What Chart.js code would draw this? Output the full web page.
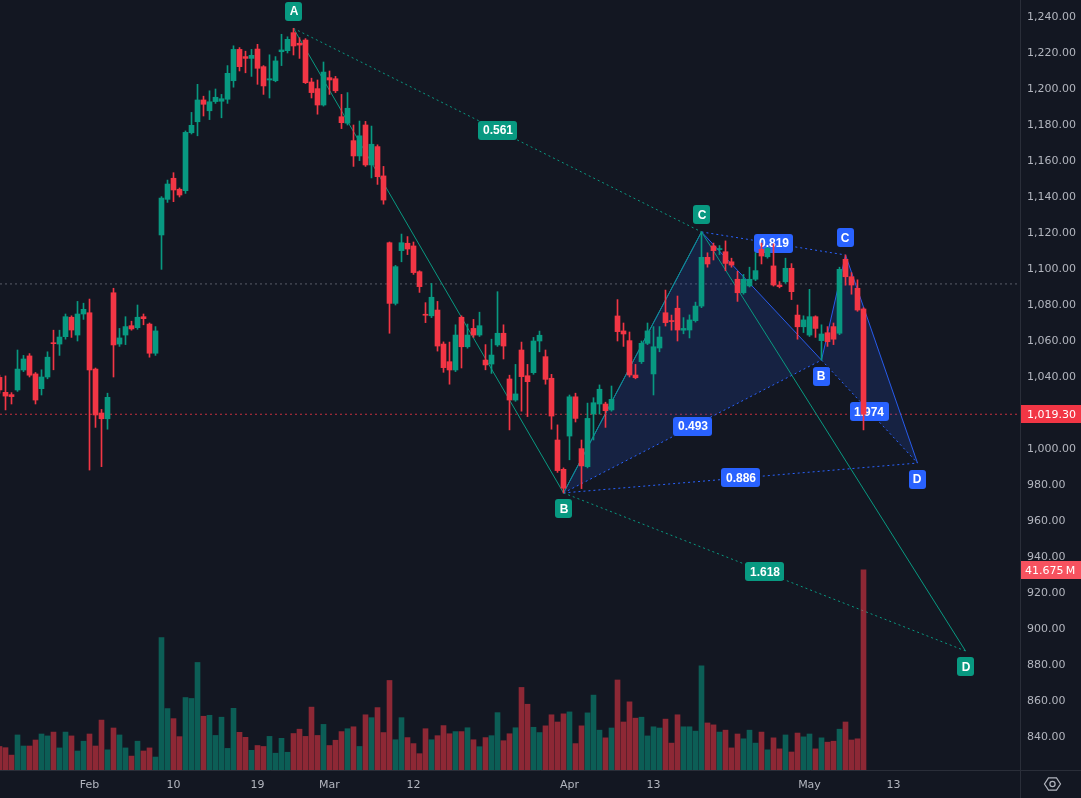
<!DOCTYPE html>
<html>
<head>
<meta charset="utf-8">
<title>Harmonic pattern chart</title>
<script src="https://cdn.jsdelivr.net/npm/chart.js@4.4.1/dist/chart.umd.min.js"></script>
<style>
  html, body { margin: 0; padding: 0; background: #131722; }
  #wrap { width: 1081px; height: 798px; }
</style>
</head>
<body>
<div id="wrap"><canvas id="chart" width="1081" height="798"></canvas></div>
<script>
"use strict";
/* candles, bar 0 is the one cut by the left edge */
var opens = [1039.8,1031.5,1030.2,1032.8,1043.9,1051.7,1041.7,1033.5,1040,1058.9,
  1058.3,1062.4,1073.2,1063.3,1075,1075.7,1044.4,1020,1016.8,1086.8,
  1058.3,1063.3,1068.5,1067.4,1073.5,1069.4,1053.2,1118.9,1138.7,1150.4,
  1144.3,1143.5,1175.7,1181.8,1193.9,1187.9,1193,1193.2,1194.3,1204.6,
  1222,1218,1217,1222.2,1212.4,1205,1204.6,1220.7,1221.3,1231.3,
  1225.4,1227.2,1203.9,1200.2,1191.1,1206.3,1205.7,1184.6,1181,1171.3,
  1162.8,1180,1157.8,1168,1151.7,1114.6,1080.9,1110.2,1114.3,1112.8,
  1098.5,1074.8,1074,1077.2,1058.3,1048.5,1043.9,1073.2,1056.8,1067,
  1063.3,1049.4,1047.2,1057.8,1064.3,1038.9,1027.2,1055,1040.7,1042.4,
  1060,1051.3,1039.3,1005,988.7,1007.2,1029,1000.2,990.2,1019.4,
  1025,1025,1021.7,1073.9,1065.6,1060.2,1041.1,1048.5,1058.7,1041.7,
  1056.1,1075.7,1071.3,1078.2,1066,1066.1,1071.3,1079.4,1106.5,1112.8,
  1110.8,1109.6,1104,1094.3,1086.8,1090.6,1094.3,1110.9,1106.8,1101.7,
  1091.1,1092.9,1100.4,1074.4,1067.9,1063.3,1073.5,1060.2,1064.6,1068,
  1064.3,1105.4,1095.7,1089.3,1077.8];
var highs = [1041,1040.6,1031.3,1055,1052,1053,1042.5,1044,1054,1066,
  1066,1075,1074,1082,1081,1083.3,1045,1022,1031,1089.3,
  1067,1073.5,1071,1080,1075,1070,1068,1140.2,1149.4,1153.5,
  1145,1176.7,1187,1202.6,1196,1199,1200,1197,1213,1224,
  1223,1221,1222,1224.8,1213,1219,1218,1230.4,1229,1233.7,
  1228.5,1228,1206,1205,1215,1210,1207,1197,1198,1180,
  1182.2,1182,1179.4,1169,1157,1115,1102,1119.4,1118,1115,
  1099,1081.3,1092,1082,1059.5,1059.4,1069,1074,1069.4,1072,
  1076,1058,1061,1087.4,1069,1041,1047,1059.4,1047,1062,
  1065.5,1055,1041.5,1013.4,989.5,1030,1031,1005,1025.5,1028.5,
  1035.6,1026,1035,1083,1070,1065,1047,1060,1070,1068,
  1068,1088.3,1074.4,1085,1073,1074.5,1081.6,1120.7,1109,1114.4,
  1113,1115.6,1106,1098.7,1097,1101,1109,1114.4,1112,1114,
  1093,1106,1103,1080,1074,1088.7,1074,1069,1068,1070,
  1101,1107.8,1098,1094,1078.5];
var lows = [1031,1021.7,1025,1032,1043,1040,1025,1030,1039,1044,
  1052,1061,1062,1060,1072,988.3,1012,990.2,1011,1040,
  1057,1058,1066,1066.5,1069,1051,1052,1099.8,1137,1137.4,
  1140,1142,1175,1174,1185,1183,1192,1184,1192,1201,
  1210,1209,1207,1202.6,1197,1195,1204,1213,1220,1218.9,
  1217,1203,1195,1186,1190.5,1197,1198,1178,1180,1157,
  1160.2,1157,1150.6,1147,1136,1064.3,1080,1104,1108,1097,
  1087,1070.2,1073,1054.4,1042.6,1036,1043,1045,1056,1062,
  1062.5,1044,1042,1057,1050,1010.6,1026.5,1021,1018,1041.5,
  1054,1036,1011,987,975.6,994,1015,978,989.5,1005,
  1019.4,1012,1021,1060,1057,1040,1039,1047.5,1058,1030,
  1054,1068.3,1066,1060,1064,1061.7,1070.5,1078.5,1101,1105,
  1108,1099,1101,1082,1086,1090,1093.5,1102.8,1106,1090.5,
  1089.5,1092,1083,1061,1064.7,1062.5,1062,1049.4,1057,1058,
  1063.5,1091,1086,1076.5,1010.6];
var closes = [1032.8,1029.4,1029.1,1044.4,1050,1041,1027.2,1040,1051,1058.5,
  1062.2,1073.5,1066.1,1075,1077.6,1043.9,1018.9,1016.8,1028.7,1057.8,
  1061.7,1068,1066.7,1073.2,1072.4,1053.2,1065.6,1139.4,1147.2,1143.9,
  1141.1,1175.9,1179.8,1193.9,1191.5,1192.9,1195.4,1194.6,1208.7,1222,
  1212.4,1217,1218.7,1211.5,1201.7,1205.7,1215.6,1221.7,1227.6,1223.9,
  1224.4,1203.5,1198,1191.1,1209.4,1205,1199,1181.3,1189.3,1162.8,
  1174,1157.8,1169.3,1151.3,1138.3,1080.9,1101.3,1114.6,1111.1,1098,
  1090.2,1074.3,1084.3,1057.2,1045.2,1043.9,1063.3,1056.8,1063.3,1063.3,
  1068.5,1046.7,1052.2,1064.3,1057.2,1027.2,1030.6,1040.2,1037.4,1060,
  1063.2,1038.7,1018.3,988,978.2,1029,1017,990.6,1017,1025.7,
  1033.2,1021.3,1027.6,1065.2,1063.9,1041.1,1039.6,1058.7,1065.6,1056.8,
  1062.2,1070.2,1070.8,1066.1,1067,1071.7,1079.4,1106.5,1102.8,1110.2,
  1111.2,1103.1,1102.2,1086.8,1094.3,1094.3,1099.1,1107.2,1111.5,1091.1,
  1090.2,1100.4,1087.4,1067.9,1071.7,1073.5,1067,1063.9,1059.6,1061,
  1099.8,1095.7,1091.1,1077.2,1019.3];
// volume in millions
var volumes = [4.9,4.65,3.1,7.3,5.0,5.0,6.25,7.5,7.1,7.9,
  4.6,7.9,7.1,3.96,6.0,7.5,5.0,10.4,4.2,8.75,
  7.3,4.6,2.9,6.0,3.96,4.6,2.7,27.6,12.8,10.7,
  6.95,15.1,14.9,22.4,11.2,11.4,7.2,11.0,4.5,12.85,
  7.85,6.8,4.1,5.1,4.9,7.0,3.5,6.6,3.7,7.6,
  8.5,7.0,13.1,7.2,9.5,5.1,6.2,8.0,8.6,9.0,
  4.9,11.5,10.9,13.0,7.8,18.65,6.3,10.9,6.75,5.5,
  3.4,8.6,6.3,7.15,9.25,7.55,8.0,8.0,8.8,6.3,
  4.85,6.75,7.15,11.95,6.1,7.55,8.8,17.2,13.7,8.9,
  7.8,9.2,11.5,10.0,11.7,12.1,5.5,9.2,11.9,15.6,
  8.3,6.7,8.75,18.75,10.0,14.2,10.8,11.0,7.1,9.0,
  8.75,10.6,5.6,11.5,9.0,9.0,8.1,21.7,9.8,9.4,
  7.9,8.3,4.6,7.5,6.5,8.3,5.6,7.9,4.2,6.7,
  4.4,7.3,3.75,7.7,6.9,7.5,4.4,6.7,5.8,6.0,
  8.5,10.0,6.25,6.5,41.675];

var tickIdx = [15, 29, 43, 55, 69, 95, 109, 135, 149];
var tickLabels = ["Feb", "10", "19", "Mar", "12", "Apr", "13", "May", "13"];
var priceTicks = [840, 860, 880, 900, 920, 940, 960, 980, 1000, 1020, 1040,
  1060, 1080, 1100, 1120, 1140, 1160, 1180, 1200, 1220, 1240];
var refPrice = 1091.7;

// ABCD (green)
var greenIdx = [49, 94, 117, 161];
var greenPx = [1233.7, 975.6, 1120.6, 887.8];
var greenNames = ["A", "B", "C", "D"];
var greenLegs = [[0, 2], [1, 3]];
var greenRatios = ["0.561", "1.618"];

// XABCD (blue)
var blueIdx = [94, 117, 137, 141, 153];
var bluePx = [975.6, 1120.6, 1049.4, 1107.8, 992.2];
var blueNames = ["", "", "B", "C", "D"];
var blueLegs = [[0, 2], [1, 3], [2, 4], [0, 4]];
var blueRatios = ["0.493", "0.819", "1.974", "0.886"];

var UP = "#089981", DOWN = "#f23645";
var GREEN = "#089981", BLUE = "#2962ff";
var AXIS = "#2a2e39", TEXT = "#b2b5be";

var xMin = 0.5 / 6, xMax = 1020.5 / 6;

var idx = opens.map(function (v, i) { return i; });
var isUp = idx.map(function (i) { return closes[i] >= opens[i]; });

function pts(ix, px, list) {
  return list.map(function (k) { return { x: ix[k], y: px[k] }; });
}
function lineSet(data, color, dashed) {
  return {
    type: "line", data: data, borderColor: color, borderWidth: 1,
    borderDash: dashed ? [2, 3] : [], pointRadius: 0, fill: false,
    tension: 0, order: 4, yAxisID: "y"
  };
}

var datasets = [];
datasets.push({
  label: "Volume", data: idx.map(function (i) { return { x: i, y: volumes[i] }; }),
  backgroundColor: idx.map(function (i) { return isUp[i] ? "rgba(8,153,129,0.55)" : "rgba(242,54,69,0.55)"; }),
  barThickness: 5, grouped: false, yAxisID: "yv", order: 3
});
datasets.push({
  label: "Wick", data: idx.map(function (i) { return { x: i, y: [lows[i], highs[i]] }; }),
  backgroundColor: idx.map(function (i) { return isUp[i] ? UP : DOWN; }),
  barThickness: 1, grouped: false, yAxisID: "y", order: 2
});
datasets.push({
  label: "Body", data: idx.map(function (i) { return { x: i, y: [opens[i], closes[i]] }; }),
  backgroundColor: idx.map(function (i) { return isUp[i] ? UP : DOWN; }),
  barThickness: 5, minBarLength: 1, grouped: false, yAxisID: "y", order: 1
});

// reference lines
var lastClose = closes[closes.length - 1];
var refLine = lineSet([{ x: xMin, y: refPrice }, { x: xMax, y: refPrice }], "rgba(120,123,134,0.7)", true);
refLine.order = 6;
datasets.push(refLine);
var lastLine = lineSet([{ x: xMin, y: lastClose }, { x: xMax, y: lastClose }], "rgba(242,54,69,0.8)", true);
lastLine.order = 6;
datasets.push(lastLine);

// blue fills
[[0, 1, 2], [2, 3, 4]].forEach(function (tri) {
  datasets.push({
    type: "line", data: pts(blueIdx, bluePx, tri), borderWidth: 0, pointRadius: 0,
    fill: "shape", backgroundColor: "rgba(41,98,255,0.15)", order: 5, yAxisID: "y"
  });
});

// pattern lines (green listed first so it sits on top)
datasets.push(lineSet(pts(greenIdx, greenPx, [0, 1, 2, 3]), GREEN, false));
greenLegs.forEach(function (l) { datasets.push(lineSet(pts(greenIdx, greenPx, l), GREEN, true)); });
datasets.push(lineSet(pts(blueIdx, bluePx, [0, 1, 2, 3, 4]), "rgba(41,98,255,0.9)", false));
blueLegs.forEach(function (l) { datasets.push(lineSet(pts(blueIdx, bluePx, l), BLUE, true)); });

function box(c, cx, cy, w, h, fill, text) {
  c.fillStyle = fill;
  c.beginPath();
  c.roundRect(Math.round(cx - w / 2), Math.round(cy - h / 2), w, h, 3);
  c.fill();
  c.fillStyle = "#ffffff";
  c.fillText(text, Math.round(cx), Math.round(cy) + 1);
}

var bgPlugin = {
  id: "bg",
  beforeDraw: function (chart) {
    var c = chart.ctx;
    c.save();
    c.fillStyle = "#131722";
    c.fillRect(0, 0, chart.width, chart.height);
    c.restore();
  }
};

var labelPlugin = {
  id: "patternLabels",
  beforeDatasetDraw: function (chart, args) {
    if (chart.data.datasets[args.index].label !== "Volume") return;
    var c = chart.ctx, xs = chart.scales.x, ys = chart.scales.y;
    c.save();
    c.font = "bold 12px 'Liberation Sans'";
    c.textAlign = "center";
    c.textBaseline = "middle";
    function drawPattern(ix, px, names, legs, ratios, color) {
      legs.forEach(function (l, n) {
        var mx = (xs.getPixelForValue(ix[l[0]]) + xs.getPixelForValue(ix[l[1]])) / 2;
        var my = (ys.getPixelForValue(px[l[0]]) + ys.getPixelForValue(px[l[1]])) / 2;
        box(c, mx, my, Math.round(c.measureText(ratios[n]).width) + 9, 19, color, ratios[n]);
      });
      names.forEach(function (t, k) {
        if (!t) return;
        var ref = k > 0 ? px[k - 1] : px[k + 1];
        var above = px[k] > ref;
        var x = xs.getPixelForValue(ix[k]);
        var y = ys.getPixelForValue(px[k]) + (above ? -17 : 16);
        box(c, x, y, 17, 19, color, t);
      });
    }
    drawPattern(blueIdx, bluePx, blueNames, blueLegs, blueRatios, BLUE);
    drawPattern(greenIdx, greenPx, greenNames, greenLegs, greenRatios, GREEN);
    c.restore();
  }
};

var axisPlugin = {
  id: "axisBoxes",
  afterDraw: function (chart) {
    var c = chart.ctx, a = chart.chartArea;
    var ys = chart.scales.y, yv = chart.scales.yv;
    c.save();
    c.strokeStyle = AXIS;
    c.lineWidth = 1;
    c.beginPath();
    c.moveTo(a.right + 0.5, 0);
    c.lineTo(a.right + 0.5, chart.height);
    c.moveTo(0, a.bottom + 0.5);
    c.lineTo(chart.width, a.bottom + 0.5);
    c.stroke();
    c.font = "11px 'DejaVu Sans'";
    c.textBaseline = "middle";
    c.textAlign = "left";
    var yl = Math.round(ys.getPixelForValue(lastClose));
    c.fillStyle = DOWN;
    c.fillRect(a.right + 1, yl - 9, chart.width - a.right - 1, 18);
    c.fillStyle = "#ffffff";
    c.fillText(lastClose.toLocaleString("en-US", { minimumFractionDigits: 2 }), a.right + 7, yl + 1);
    var lastVol = volumes[volumes.length - 1];
    var yvp = Math.round(yv.getPixelForValue(lastVol));
    c.fillStyle = "#f7525f";
    c.fillRect(a.right + 1, yvp - 9, chart.width - a.right - 1, 18);
    c.fillStyle = "#ffffff";
    c.fillText(lastVol.toFixed(3) + "\u2009M", a.right + 5, yvp + 1);
    // settings icon
    var cx = (a.right + chart.width) / 2 + 2, cy = (a.bottom + chart.height) / 2;
    c.strokeStyle = TEXT;
    c.lineWidth = 1.2;
    c.beginPath();
    for (var k = 0; k < 6; k++) {
      var ang = Math.PI / 3 * k;
      var hx = cx + 8 * Math.cos(ang), hy = cy + 7 * Math.sin(ang);
      if (k === 0) c.moveTo(hx, hy); else c.lineTo(hx, hy);
    }
    c.closePath();
    c.stroke();
    c.beginPath();
    c.arc(cx, cy, 2.6, 0, Math.PI * 2);
    c.stroke();
    c.restore();
  }
};

function noPad(s) {
  s.paddingTop = 0; s.paddingBottom = 0; s.paddingLeft = 0; s.paddingRight = 0;
}

new Chart(document.getElementById("chart"), {
  type: "bar",
  data: { datasets: datasets },
  options: {
    responsive: false,
    animation: false,
    events: [],
    devicePixelRatio: 1,
    layout: { padding: 0 },
    plugins: { legend: { display: false }, tooltip: { enabled: false } },
    scales: {
      x: {
        type: "linear", min: xMin, max: xMax, offset: false,
        grid: { display: false, offset: false, drawTicks: false },
        border: { display: false },
        afterBuildTicks: function (s) { s.ticks = tickIdx.map(function (v) { return { value: v }; }); },
        afterFit: function (s) { s.height = 28; noPad(s); },
        ticks: {
          autoSkip: false, maxRotation: 0, padding: 9, color: TEXT,
          font: { family: "DejaVu Sans", size: 11 },
          callback: function (v) { return tickLabels[tickIdx.indexOf(v)]; }
        }
      },
      y: {
        position: "right", min: 821.67, max: 1249.44,
        grid: { display: false, drawTicks: false },
        border: { display: true, color: AXIS },
        afterBuildTicks: function (s) { s.ticks = priceTicks.map(function (v) { return { value: v }; }); },
        afterFit: function (s) { s.width = 61; noPad(s); },
        ticks: {
          autoSkip: false, padding: 7, color: TEXT,
          font: { family: "DejaVu Sans", size: 11 },
          callback: function (v) { return v.toLocaleString("en-US", { minimumFractionDigits: 2 }); }
        }
      },
      yv: { display: false, min: 0, max: 160.4 }
    }
  },
  plugins: [bgPlugin, labelPlugin, axisPlugin]
});
</script>
</body>
</html>
